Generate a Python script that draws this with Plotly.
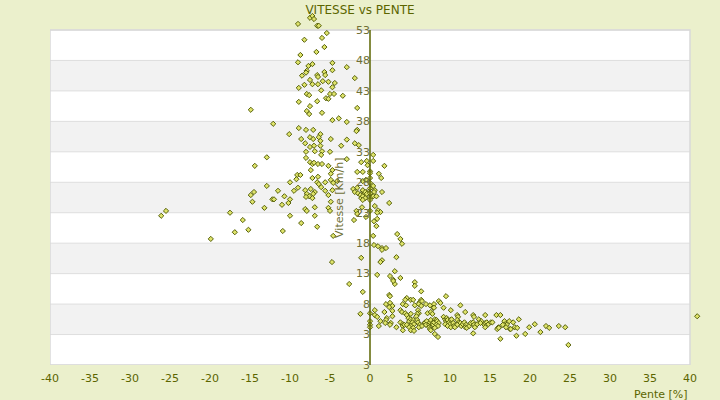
import plotly.graph_objects as go

# ---- data (Pente [%], Vitesse [Km/h]) ----
points_top = [
    (-7.5, 55.0), (-7.2, 55.3), (-7.0, 54.8), (-9.0, 54.0), (-6.6, 53.7), (-6.4, 53.7),
    (-8.2, 51.4), (-6.0, 51.7), (-5.4, 52.5), (-5.7, 50.2), (-6.7, 49.4), (-8.7, 48.9),
    (-9.0, 47.7), (-7.7, 47.1), (-7.2, 47.4), (-4.7, 47.6), (-2.9, 46.9),
    (-7.9, 46.3), (-8.0, 46.0), (-8.5, 45.5), (-6.6, 45.6), (-6.5, 45.3), (-5.7, 46.1),
    (-5.6, 45.6), (-4.7, 46.4), (-1.9, 45.1),
    (-7.5, 44.8), (-7.2, 44.1), (-8.2, 44.0), (-6.5, 44.1), (-5.9, 44.6), (-5.2, 44.5),
    (-4.4, 44.3), (-4.7, 43.6), (-8.9, 43.5), (-6.1, 43.1), (-7.9, 42.5), (-7.6, 42.3),
    (-5.0, 42.5), (-4.5, 42.5), (-5.5, 41.8), (-5.2, 41.7), (-3.4, 42.2), (-6.6, 41.3),
    (-8.9, 41.2), (-7.5, 40.5), (-1.6, 40.2), (-7.9, 39.7), (-7.6, 39.2), (-6.0, 39.4),
    (-4.7, 38.2), (-3.9, 38.5), (-2.9, 37.9), (-12.1, 37.6), (-8.9, 36.9), (-8.0, 36.6),
    (-7.1, 36.6), (-1.6, 36.6),
]

points_middle = [
    (-10.1, 35.9), (-8.6, 35.1), (-7.5, 35.4), (-7.1, 35.1), (-6.2, 35.9), (-6.4, 35.4),
    (-6.2, 34.8), (-4.9, 35.1), (-1.7, 36.4), (-8.1, 34.4), (-7.5, 33.8), (-7.0, 34.0),
    (-6.2, 34.0), (-6.9, 33.1), (-6.0, 33.1), (-6.1, 32.5), (-8.0, 33.0), (-3.6, 34.0),
    (-2.9, 35.0), (-1.9, 34.4), (-1.4, 34.1), (-5.0, 33.0), (-12.9, 32.1), (-8.0, 32.0),
    (-7.5, 31.3), (-7.2, 31.0), (-7.0, 31.2), (-6.5, 31.0), (-6.0, 31.0), (-5.2, 30.7),
    (-2.9, 31.8), (-1.1, 31.3), (-0.4, 31.5), (-0.3, 30.8), (-1.6, 29.7), (-4.7, 30.0),
    (-4.9, 29.4), (-7.4, 30.0), (-9.1, 29.2), (-8.7, 29.2), (-9.2, 28.5), (-7.2, 28.7),
    (-6.5, 28.9), (-6.6, 28.0), (-6.4, 27.7), (-6.1, 27.2), (-5.6, 28.0), (-4.9, 28.4),
    (-4.6, 27.9), (-4.1, 28.2), (-10.0, 28.0), (-12.9, 27.4), (-11.5, 26.6), (-9.5, 26.6),
    (-9.0, 27.1), (-8.1, 26.7), (-7.4, 26.9), (-6.9, 26.4), (-7.9, 26.1), (-7.1, 26.1),
    (-7.6, 25.7), (-7.2, 25.4), (-8.0, 25.6), (-5.6, 26.6), (-4.7, 26.7), (-5.2, 25.9),
    (-2.1, 26.9), (-1.6, 27.1), (-1.9, 26.4), (-1.5, 26.2), (-1.2, 25.9), (-0.9, 26.6),
    (-0.7, 26.1), (-0.5, 25.9), (-0.4, 26.4), (-1.1, 25.4), (-12.2, 25.2), (-12.0, 25.2),
    (-10.7, 25.7), (-10.0, 25.2), (-13.2, 23.8), (-11.0, 24.3), (-10.2, 24.6), (-8.1, 23.6),
    (-7.9, 23.3), (-6.9, 23.9), (-5.2, 23.8), (-5.0, 23.3), (-4.9, 24.8), (-10.0, 22.5),
    (-6.9, 22.5), (-1.7, 23.3), (-1.6, 22.8), (-2.0, 21.8), (-8.6, 21.3), (-6.6, 20.7),
    (-10.9, 20.0), (-4.6, 19.2),
]

points_left = [
    (-14.9, 39.9), (-14.4, 30.7), (-14.5, 26.4), (-14.9, 25.9), (-14.7, 24.8),
    (-25.5, 23.3), (-26.1, 22.5), (-17.5, 23.0), (-15.9, 21.8), (-16.9, 19.8),
    (-15.2, 20.2), (-19.9, 18.7),
    (-4.75, 14.9), (-2.6, 11.3), (-0.9, 10.0), (-1.2, 6.4), (-1.1, 15.6),
]

points_flat = [
    (0.4, 32.5), (0.4, 31.5), (1.8, 30.7), (-0.9, 29.7), (1.1, 29.4), (1.4, 28.7),
    (-0.9, 28.2), (-0.5, 28.4), (0.4, 27.4), (0.6, 26.7), (0.5, 26.4), (1.5, 26.4),
    (-0.9, 26.7), (-0.6, 26.4), (-0.4, 26.1), (-0.9, 25.7), (-0.6, 25.4), (-0.9, 25.1),
    (0.4, 25.7), (0.8, 25.7), (2.4, 24.6), (0.6, 24.1), (-1.0, 23.9), (1.0, 23.4),
    (1.3, 23.1), (0.9, 23.0), (-0.5, 22.3), (0.9, 22.0), (0.5, 21.6), (0.8, 20.8),
    (0.4, 19.2), (3.4, 19.5), (3.8, 18.7), (4.0, 17.9), (0.5, 17.7), (1.0, 17.5),
    (1.5, 17.2), (2.0, 17.2), (1.5, 16.9), (3.3, 15.7), (1.5, 15.2), (1.3, 14.9),
    (3.1, 13.4), (0.9, 12.8), (2.5, 12.6), (3.8, 12.3), (2.9, 12.0), (3.1, 11.3),
    (5.6, 11.6), (5.6, 11.0), (2.9, 11.8),
    (0, 29.8), (0, 29.5), (0, 28.7), (0, 27.9), (0, 27.0), (0, 26.2), (0, 25.4),
    (0, 25.1), (0, 23.3), (0, 6.5), (0, 5.2), (0, 4.6), (0, 4.2),
]

points_climb = [
    (6.4, 10.1), (9.5, 9.3), (2.4, 9.5), (2.5, 9.3), (4.6, 9.0), (4.4, 8.7), (5.1, 8.7),
    (5.4, 8.7), (6.4, 8.7), (6.2, 8.3), (6.5, 8.5), (2.0, 8.0), (2.5, 8.2), (2.8, 7.7),
    (2.4, 7.5), (4.1, 8.0), (4.5, 7.8), (5.6, 7.8), (6.1, 8.0), (6.4, 7.7), (7.0, 8.0),
    (7.5, 7.8), (8.0, 8.0), (7.9, 7.4), (8.0, 7.4), (8.6, 8.5), (8.8, 8.2), (9.2, 7.4),
    (10.1, 7.0), (11.3, 7.8), (0.6, 7.0), (2.8, 6.9), (3.8, 7.0), (4.0, 6.7), (4.4, 6.5),
    (4.6, 6.2), (5.1, 6.4), (6.0, 7.0), (6.1, 6.5), (5.9, 6.4), (5.8, 6.0), (7.2, 6.5),
    (7.6, 6.7), (7.8, 6.4), (11.9, 6.7), (12.9, 6.2), (13.0, 5.9), (14.4, 6.2), (0.6, 6.2),
    (0.9, 5.9), (1.8, 6.7), (2.8, 6.0), (2.1, 5.7), (2.0, 5.4), (1.9, 4.9), (1.3, 5.2),
    (1.1, 4.4), (2.6, 4.9), (2.5, 4.6), (3.3, 4.2), (3.8, 5.0), (4.1, 4.7), (4.1, 4.4),
    (4.3, 4.6), (4.1, 3.7),
    (4.8, 5.7), (4.9, 5.2), (5.1, 5.5), (5.4, 5.4), (5.3, 5.0), (5.5, 4.7), (4.6, 4.6),
    (5.1, 4.4), (4.9, 4.2), (5.4, 4.1), (5.1, 3.7), (5.5, 3.6),
    (5.9, 5.4), (6.0, 5.0), (6.2, 4.6), (6.1, 4.2), (6.5, 4.4), (6.8, 4.9), (6.9, 5.0),
    (7.1, 5.2), (7.0, 4.6), (7.4, 4.7), (7.4, 4.2), (7.5, 5.0), (7.6, 5.4), (7.8, 4.9),
    (7.9, 4.6), (8.0, 5.0), (7.5, 3.9), (7.6, 3.7), (8.1, 5.5), (8.3, 5.4), (8.4, 5.2),
    (8.6, 4.9), (8.3, 4.6), (8.5, 4.4), (8.1, 4.1), (8.1, 3.1), (8.5, 2.6),
    (9.2, 5.9), (9.4, 5.5), (9.6, 5.7), (9.5, 5.2), (9.7, 5.4), (9.9, 5.0), (10.1, 5.4),
    (10.2, 5.5), (10.0, 4.7), (10.4, 4.9), (9.4, 4.7), (9.7, 4.4), (10.1, 4.2), (10.5, 4.4),
    (10.9, 6.2), (11.0, 5.9), (10.9, 5.4), (11.1, 5.0), (11.3, 4.9), (10.9, 4.6), (10.6, 4.2),
    (11.4, 4.4), (11.6, 4.7), (11.8, 5.0), (12.0, 4.6), (11.9, 4.2), (12.1, 4.1), (12.4, 4.4),
    (12.6, 4.9), (12.9, 5.0), (13.0, 4.6), (13.1, 4.2), (13.4, 4.7), (13.6, 5.5), (13.9, 5.2),
    (13.8, 4.9), (14.3, 4.6), (14.4, 4.9), (14.6, 5.0), (14.8, 4.7), (15.1, 5.0), (14.4, 4.2),
    (12.9, 3.2), (16.0, 4.1), (16.1, 4.2),
]

points_steep = [
    (15.8, 6.2), (16.3, 6.2), (15.3, 5.0), (16.8, 5.2), (17.4, 5.2), (17.9, 5.0), (18.6, 5.5),
    (16.9, 4.7), (17.1, 4.6), (16.6, 4.6), (17.0, 4.2), (15.9, 3.9), (16.1, 4.1), (17.5, 3.9),
    (17.6, 3.9), (18.1, 4.2), (18.4, 4.1), (19.9, 4.2), (20.6, 4.7), (21.3, 3.4), (22.0, 4.4),
    (22.4, 4.1), (23.6, 4.4), (24.4, 4.2), (16.3, 2.3), (18.3, 2.8), (19.4, 3.1), (24.8, 1.3),
    (40.9, 6.0),
]

x_tickvals = list(range(-40, 41, 5))
x_ticktext = [str(v) for v in x_tickvals]
y_tickvals = list(range(-2, 54, 5))
y_ticktext = ["3", "3", "8", "13", "18", "23", "28", "33", "38", "43", "48", "53"]
band_ranges = [(3, 8), (13, 18), (23, 28), (33, 38), (43, 48)]

title_text = "VITESSE vs PENTE"
x_title = "Pente [%]"
y_title = "Vitesse [Km/h]"

# ---- build ----
all_points = points_top + points_middle + points_left + points_flat + points_climb + points_steep
pente = [p[0] for p in all_points]
vitesse = [p[1] for p in all_points]

X0, X1 = x_tickvals[0], x_tickvals[-1]
Y0, Y1 = y_tickvals[0], y_tickvals[-1]
# axes span a little beyond the framed area so the outlying points stay visible
X_RANGE = [X0, X1 + 1.25]
Y_RANGE = [Y0, Y1 + (Y1 - Y0) * 20 / 335]

OLIVE = "#5b6500"
LABEL = "#6f6f35"
FONT = "DejaVu Sans"

fig = go.Figure()
fig.add_trace(go.Scatter(
    x=pente, y=vitesse, mode="markers", cliponaxis=False,
    marker=dict(symbol="diamond", size=4, color="#dfe46a",
                line=dict(color="#56600a", width=1)),
    hoverinfo="x+y", showlegend=False,
))

shapes = [dict(type="rect", xref="x", yref="y", x0=X0, x1=X1, y0=Y0, y1=Y1,
               fillcolor="#ffffff", line=dict(width=0), layer="below")]
for lo, hi in band_ranges:
    shapes.append(dict(type="rect", xref="x", yref="y", x0=X0, x1=X1, y0=lo, y1=hi,
                       fillcolor="#f2f2f2", line=dict(width=0), layer="below"))
for v in y_tickvals:
    shapes.append(dict(type="line", xref="x", yref="y", x0=X0, x1=X1, y0=v, y1=v,
                       line=dict(color="#dedede", width=1), layer="below"))
shapes.append(dict(type="rect", xref="x", yref="y", x0=X0, x1=X1, y0=Y0, y1=Y1,
                   line=dict(color="#d9d9d9", width=1.5), fillcolor="rgba(0,0,0,0)",
                   layer="below"))
shapes.append(dict(type="line", xref="x", yref="y", x0=0, x1=0, y0=Y0, y1=Y1,
                   line=dict(color=OLIVE, width=1.5), layer="above"))

zero_pos = (0 - X_RANGE[0]) / (X_RANGE[1] - X_RANGE[0])
right_pos = (X1 - X_RANGE[0]) / (X_RANGE[1] - X_RANGE[0])

fig.update_layout(
    width=720, height=400,
    margin=dict(l=50, r=20, t=10, b=35),
    paper_bgcolor="#ebf0cc",
    plot_bgcolor="rgba(0,0,0,0)",
    font=dict(family=FONT, size=11, color=LABEL),
    title=dict(text=title_text, x=0.5, xref="container", xanchor="center",
               y=0.975, yanchor="middle", font=dict(family=FONT, size=12, color=OLIVE)),
    shapes=shapes,
    xaxis=dict(range=X_RANGE, tickvals=x_tickvals, ticktext=x_ticktext,
               showgrid=False, zeroline=False, ticklabelstandoff=5,
               showline=False, ticks="", tickfont=dict(family=FONT, size=11, color=OLIVE),
               fixedrange=True),
    yaxis=dict(range=Y_RANGE, tickvals=y_tickvals, ticktext=y_ticktext,
               anchor="free", position=zero_pos, showline=False,
               showgrid=False, zeroline=False, ticks="",
               tickfont=dict(family=FONT, size=11, color=LABEL), fixedrange=True),
    annotations=[
        dict(text=x_title, xref="paper", yref="paper", x=right_pos, y=-0.082,
             xanchor="right", yanchor="middle", showarrow=False,
             font=dict(family=FONT, size=11, color=OLIVE)),
        dict(text=y_title, xref="x", yref="y", x=-3.9, y=25.4,
             xanchor="center", yanchor="middle", textangle=-90, showarrow=False,
             font=dict(family=FONT, size=11, color=LABEL)),
    ],
)

fig.write_html("out.html", config={"displayModeBar": False},
               post_script="document.body.style.margin='0';")
